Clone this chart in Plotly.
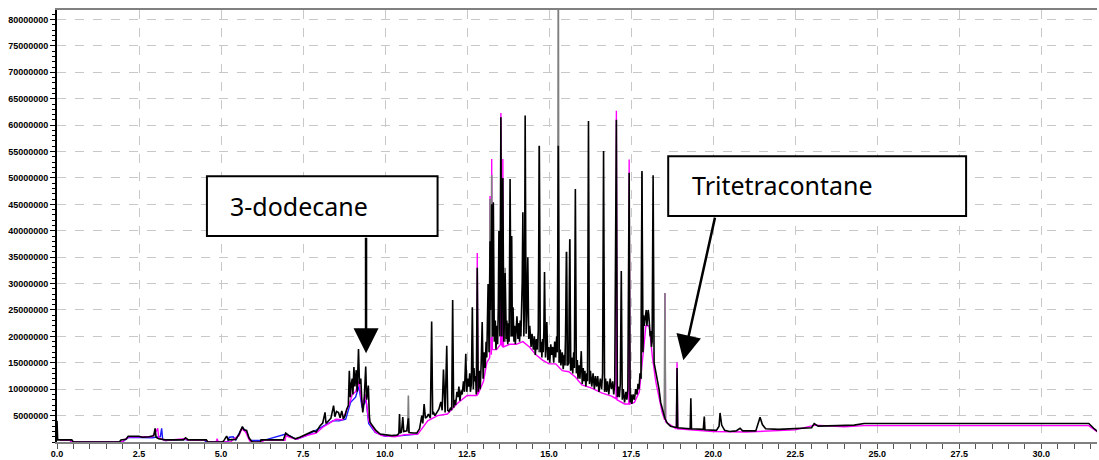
import plotly.graph_objects as go

SCALE = 1e6  # values below are in millions of counts

# ---- black (main) chromatogram: (retention time min, intensity in millions) ----
black_pts = [
    (0.00, 4.0), (0.02, 0.4), (0.45, 0.4), (0.5, 0.0), (1.9, 0.0), (1.95, 0.4), (2.1, 0.5), (2.17, 1.1),
    (2.5, 1.1), (2.6, 0.9), (2.8, 1.0), (2.95, 1.2), (2.99, 2.6), (3.02, 0.9), (3.1, 0.6), (3.3, 0.4),
    (3.85, 0.4), (3.92, 0.8), (4.0, 0.4), (4.55, 0.4), (4.6, 0.0), (5.05, 0.0), (5.1, 0.4), (5.17, 1.1),
    (5.22, 0.4), (5.45, 0.5), (5.55, 1.5), (5.62, 2.4), (5.65, 2.9), (5.7, 2.3), (5.78, 2.2), (5.85, 0.8),
    (5.9, 0.3), (5.95, 0.0), (6.2, 0.0), (6.22, 0.4), (6.9, 0.4), (6.93, 1.2), (6.97, 1.7), (7.05, 1.3),
    (7.15, 1.0), (7.26, 0.6), (7.4, 0.9), (7.5, 1.2), (7.6, 1.4), (7.7, 1.8), (7.82, 2.1), (7.9, 1.9),
    (8.02, 3.1), (8.1, 3.6), (8.17, 5.6), (8.2, 3.5), (8.27, 4.0), (8.35, 4.5), (8.43, 6.9), (8.47, 4.8),
    (8.52, 5.8), (8.58, 5.6), (8.63, 4.6), (8.68, 5.9), (8.73, 4.4), (8.78, 5.0), (8.83, 6.2), (8.88, 6.9),
    (8.91, 13.5), (8.94, 8.5), (8.97, 11.0), (9.0, 12.0), (9.02, 9.0), (9.05, 14.2), (9.08, 10.5),
    (9.12, 13.6), (9.15, 9.5), (9.19, 17.6), (9.22, 11.0), (9.26, 12.0), (9.29, 8.0), (9.32, 5.6),
    (9.36, 7.5), (9.41, 14.3), (9.44, 8.0), (9.49, 10.7), (9.52, 5.0), (9.54, 3.8), (9.6, 3.2), (9.64, 2.8),
    (9.72, 2.2), (9.85, 1.5), (10.05, 1.3), (10.2, 1.2), (10.36, 1.3), (10.42, 1.6), (10.44, 5.3),
    (10.46, 1.7), (10.5, 1.9), (10.54, 4.7), (10.57, 2.0), (10.66, 2.1), (10.71, 4.5), (10.73, 1.8),
    (10.85, 1.7), (10.97, 1.7), (11.05, 2.5), (11.12, 5.0), (11.15, 3.5), (11.19, 7.2), (11.23, 4.5),
    (11.28, 4.8), (11.32, 5.3), (11.38, 4.5), (11.42, 22.8), (11.45, 5.2), (11.47, 5.7), (11.52, 5.0),
    (11.58, 5.5), (11.64, 6.2), (11.7, 7.6), (11.74, 6.0), (11.78, 13.7), (11.81, 6.0), (11.83, 5.6),
    (11.88, 18.2), (11.91, 6.0), (11.95, 5.8),
    (12.0, 6.5), (12.03, 6.0), (12.06, 26.9), (12.09, 6.5), (12.12, 8.0), (12.15, 7.0), (12.19, 9.5),
    (12.22, 8.5), (12.25, 10.5), (12.28, 7.8), (12.32, 9.8), (12.35, 9.0), (12.39, 11.5), (12.42, 9.5),
    (12.46, 16.7), (12.49, 9.5), (12.52, 12.0), (12.55, 10.5), (12.58, 13.0), (12.6, 9.5), (12.63, 11.0),
    (12.66, 25.5), (12.69, 10.0), (12.71, 14.0), (12.73, 11.5), (12.76, 12.5), (12.78, 9.0), (12.81, 33.0),
    (12.84, 9.5), (12.87, 13.5), (12.9, 10.0), (12.93, 15.0), (12.96, 22.7), (12.99, 12.0), (13.02, 17.0),
    (13.05, 14.0), (13.08, 19.0), (13.1, 16.0), (13.12, 22.0), (13.14, 29.9), (13.17, 17.0), (13.2, 38.0),
    (13.22, 25.0), (13.25, 45.0), (13.28, 20.0), (13.3, 45.4), (13.33, 19.0), (13.36, 23.0), (13.38, 17.5),
    (13.41, 22.0), (13.43, 18.5), (13.45, 25.0), (13.47, 40.0), (13.5, 20.0), (13.53, 61.5), (13.56, 20.0),
    (13.59, 50.0), (13.62, 19.0), (13.64, 24.0), (13.66, 32.0), (13.69, 19.5), (13.71, 23.0), (13.74, 18.5),
    (13.76, 22.5), (13.78, 19.0), (13.81, 49.8), (13.84, 20.0), (13.86, 39.0), (13.88, 20.0), (13.9, 25.5),
    (13.93, 19.0), (13.95, 22.0), (13.97, 18.5), (14.0, 21.0), (14.02, 23.8), (14.05, 19.5), (14.08, 22.5),
    (14.1, 19.0), (14.12, 23.0), (14.14, 20.0), (14.16, 24.0), (14.18, 30.3), (14.2, 43.5), (14.23, 20.0),
    (14.25, 26.0), (14.27, 61.8), (14.3, 20.5), (14.32, 24.0), (14.35, 35.0), (14.38, 19.5), (14.41, 22.0),
    (14.45, 18.0), (14.48, 20.5), (14.52, 17.5), (14.55, 20.0), (14.58, 16.5), (14.61, 19.5), (14.64, 17.5),
    (14.67, 21.0), (14.7, 56.1), (14.73, 17.0), (14.76, 19.0), (14.78, 16.0), (14.8, 19.5), (14.82, 17.0),
    (14.84, 21.0), (14.86, 32.2), (14.89, 16.0), (14.91, 18.5), (14.93, 22.7), (14.96, 15.5), (14.99, 18.0),
    (15.02, 15.0), (15.05, 18.5), (15.08, 16.5), (15.11, 18.0), (15.14, 15.0), (15.17, 19.0), (15.2, 16.0),
    (15.23, 20.0), (15.25, 17.0), (15.28, 56.1), (15.31, 15.0), (15.34, 17.5), (15.36, 14.5), (15.4, 17.0),
    (15.43, 13.8), (15.46, 16.5), (15.48, 14.5), (15.5, 20.0), (15.53, 36.0), (15.56, 14.5), (15.6, 15.0),
    (15.63, 38.4), (15.66, 13.5), (15.69, 16.0), (15.72, 13.0), (15.75, 17.0), (15.77, 14.0), (15.8, 47.9),
    (15.83, 13.0), (15.86, 15.5), (15.88, 12.0), (15.91, 14.5), (15.94, 12.0), (15.98, 17.2), (16.01, 11.0),
    (16.04, 14.0), (16.06, 11.5), (16.09, 13.5), (16.12, 10.5), (16.15, 13.0), (16.17, 11.5), (16.2, 60.8),
    (16.23, 11.0), (16.26, 13.5), (16.3, 10.5), (16.34, 13.0), (16.38, 10.0), (16.41, 12.5), (16.45, 10.5),
    (16.48, 12.5), (16.52, 9.5), (16.56, 12.0), (16.6, 10.0), (16.63, 13.0), (16.66, 55.1), (16.69, 9.5),
    (16.72, 12.0), (16.75, 9.5), (16.78, 11.5), (16.82, 9.0), (16.86, 12.0), (16.9, 10.0), (16.94, 11.5),
    (16.97, 9.0), (17.0, 11.0), (17.05, 61.0), (17.08, 8.5), (17.11, 10.5), (17.14, 8.5), (17.17, 11.0),
    (17.2, 32.4), (17.23, 8.0), (17.26, 10.0), (17.3, 7.5), (17.34, 9.5), (17.37, 8.0), (17.4, 10.0),
    (17.44, 51.0), (17.47, 7.5), (17.5, 9.0), (17.52, 7.2), (17.56, 9.0), (17.6, 8.0), (17.64, 10.0),
    (17.68, 9.0), (17.71, 11.0), (17.74, 10.0), (17.77, 13.0), (17.8, 12.0), (17.83, 51.3), (17.86, 17.0),
    (17.88, 24.0), (17.9, 22.0), (17.93, 24.0), (17.96, 25.0), (17.98, 22.0), (18.0, 23.0), (18.02, 25.0),
    (18.04, 24.0), (18.06, 21.0), (18.08, 20.0), (18.1, 21.0), (18.12, 18.0), (18.14, 19.0), (18.17, 50.5),
    (18.2, 15.0), (18.23, 14.0), (18.27, 12.5), (18.31, 11.0), (18.35, 10.0), (18.4, 7.5), (18.45, 6.2),
    (18.53, 4.5), (18.6, 3.6), (18.7, 3.0),
    (18.84, 2.8), (18.88, 2.8), (18.9, 14.0), (18.92, 2.7), (19.1, 2.6), (19.3, 2.5), (19.32, 8.3),
    (19.34, 2.5), (19.7, 2.4), (19.73, 4.8), (19.75, 2.3), (20.1, 2.2), (20.18, 3.0), (20.21, 5.5),
    (20.26, 3.2), (20.35, 2.2), (20.5, 2.0), (20.7, 2.1), (20.82, 2.6), (20.9, 2.1), (21.3, 2.1),
    (21.4, 3.8), (21.43, 4.7), (21.5, 3.3), (21.6, 2.5), (22.0, 2.4), (22.55, 2.5), (23.0, 2.7),
    (23.08, 3.5), (23.2, 3.0), (23.8, 3.1), (24.3, 3.2), (24.6, 3.5), (31.45, 3.5), (31.6, 2.6), (31.74, 1.9),
]

# ---- magenta overlay run ----
magenta_pts = [
    (0.1, 0.3), (0.4, 0.3), (0.45, 0.0), (2.0, 0.0), (2.05, 0.4), (2.2, 1.0), (2.6, 1.0), (2.9, 1.0),
    (3.04, 2.2), (3.07, 2.6), (3.1, 0.8), (3.3, 0.3), (3.9, 0.6), (4.0, 0.3), (4.55, 0.3), (4.6, 0.0),
    (4.85, 0.0), (4.88, 0.6), (4.92, 0.0), (5.3, 0.0), (5.35, 0.4), (5.55, 1.2), (5.63, 2.5), (5.75, 1.9),
    (5.85, 0.5), (5.9, 0.0), (6.25, 0.0), (6.3, 0.3), (6.95, 0.3), (6.98, 1.2), (7.1, 0.9), (7.3, 0.5),
    (7.6, 1.2), (7.9, 1.7), (8.1, 2.8), (8.3, 3.6), (8.5, 4.3), (8.7, 4.2), (8.9, 7.0), (9.0, 9.0),
    (9.1, 9.5), (9.2, 11.5), (9.3, 7.0), (9.4, 9.0), (9.5, 4.0), (9.7, 1.9), (9.9, 1.2), (10.3, 1.0),
    (10.6, 1.4), (11.0, 1.5), (11.3, 4.0), (11.6, 5.0), (11.9, 5.3), (12.2, 7.3), (12.5, 8.8), (12.8, 8.8),
    (12.81, 35.8), (12.83, 9.0), (13.0, 11.5), (13.1, 15.0), (13.19, 16.0), (13.2, 46.6), (13.22, 16.5),
    (13.24, 16.5), (13.25, 53.6), (13.27, 17.5), (13.4, 17.5), (13.52, 18.5), (13.53, 62.3), (13.55, 18.5),
    (13.58, 18.0), (13.59, 53.6), (13.61, 18.0), (13.8, 18.5), (14.0, 18.5), (14.2, 19.0), (14.4, 18.0),
    (14.6, 16.5), (14.8, 15.5), (15.0, 14.8), (15.2, 14.8), (15.4, 13.5), (15.6, 13.3), (15.8, 12.3),
    (16.0, 10.8), (16.3, 10.2), (16.6, 9.3), (16.9, 8.7), (17.04, 8.2), (17.05, 62.7), (17.07, 8.0),
    (17.3, 7.2), (17.43, 7.2), (17.44, 53.5), (17.46, 7.2), (17.6, 7.5), (17.75, 9.5), (17.85, 16.0),
    (17.95, 22.0), (18.05, 22.0), (18.15, 16.0), (18.25, 11.5), (18.35, 8.5), (18.45, 5.5), (18.52, 4.2),
    (18.53, 28.2), (18.55, 3.8), (18.88, 2.5), (18.9, 15.1), (18.92, 2.5), (19.3, 2.3), (20.0, 2.0),
    (21.0, 1.9), (22.5, 2.3), (23.1, 3.2), (24.0, 2.9), (24.6, 3.1), (31.45, 3.1), (31.74, 1.8),
]

# ---- blue overlay run (early part) ----
blue_pts = [
    (0.1, 0.3), (0.4, 0.3), (0.45, 0.0), (2.0, 0.0), (2.05, 0.3), (2.2, 0.9), (2.9, 0.8), (3.15, 1.0),
    (3.19, 2.6), (3.22, 0.5), (3.3, 0.3), (3.9, 0.5), (4.0, 0.3), (4.5, 0.3), (4.55, 0.0), (5.2, 0.0),
    (5.25, 0.9), (5.37, 1.0), (5.45, 0.4), (5.6, 2.2), (5.68, 2.6), (5.8, 1.6), (5.88, 0.3), (6.3, 0.3),
    (6.98, 1.5), (7.1, 1.1), (7.3, 0.5), (7.6, 1.2), (8.0, 2.6), (8.4, 4.0), (8.6, 4.0), (8.8, 4.3),
    (8.95, 7.5), (9.1, 8.5), (9.2, 10.5), (9.3, 6.5), (9.42, 8.0), (9.5, 3.5), (9.7, 1.8), (10.0, 1.1),
    (10.5, 1.2), (11.0, 1.5),
]

# ---- grey overlay run: only separate peak groups ----
grey_groups = [
    [(10.69, 2.0), (10.71, 8.8), (10.73, 1.8)],
    [(13.18, 17.0), (13.2, 46.0), (13.22, 20.0), (13.24, 20.0), (13.25, 50.5), (13.27, 20.0)],
    [(13.64, 19.0), (13.66, 33.0), (13.68, 19.0)],
    [(14.68, 17.0), (14.7, 56.0), (14.72, 17.0)],
    [(15.26, 17.0), (15.28, 95.0), (15.30, 15.0)],
    [(15.51, 14.5), (15.53, 36.0), (15.55, 14.5), (15.61, 15.0), (15.63, 38.4), (15.65, 13.5)],
    [(17.81, 12.0), (17.83, 51.0), (17.85, 17.0)],
    [(18.51, 4.6), (18.53, 28.2), (18.55, 4.4)],
]

x_tick_vals = [0, 2.5, 5, 7.5, 10, 12.5, 15, 17.5, 20, 22.5, 25, 27.5, 30]
x_tick_text = ["0.0", "2.5", "5.0", "7.5", "10.0", "12.5", "15.0", "17.5", "20.0", "22.5", "25.0", "27.5", "30.0"]
y_tick_vals = [5e6 * k for k in range(1, 17)]
y_tick_text = [str(int(v)) for v in y_tick_vals]

label_1 = "3-dodecane"
label_2 = "Tritetracontane"


def xy(pts):
    return [p[0] for p in pts], [p[1] * SCALE for p in pts]


gx, gy = [], []
for g in grey_groups:
    for t, v in g:
        gx.append(t)
        gy.append(v * SCALE)
    gx.append(None)
    gy.append(None)

fig = go.Figure()
bx, by = xy(blue_pts)
fig.add_trace(go.Scatter(x=bx, y=by, mode="lines", line=dict(color="#1a1aff", width=1.4), hoverinfo="skip"))
mx, my = xy(magenta_pts)
fig.add_trace(go.Scatter(x=mx, y=my, mode="lines", line=dict(color="#ff00ff", width=1.4), hoverinfo="skip"))
fig.add_trace(go.Scatter(x=gx, y=gy, mode="lines", line=dict(color="#7f7f7f", width=1.6), hoverinfo="skip"))
kx, ky = xy(black_pts)
fig.add_trace(go.Scatter(x=kx, y=ky, mode="lines", line=dict(color="#000000", width=1.6), hoverinfo="skip"))

tick_font = dict(family="Liberation Sans, Arial, sans-serif", size=9, color="#000000", weight="bold")

fig.update_layout(
    width=1099, height=460,
    margin=dict(l=57, r=2, t=10, b=18, autoexpand=False),
    paper_bgcolor="white", plot_bgcolor="white",
    showlegend=False,
    xaxis=dict(
        range=[0, 31.7], tickmode="array", tickvals=x_tick_vals, ticktext=x_tick_text,
        ticks="outside", ticklen=5, tickcolor="#555555", tickwidth=1,
        minor=dict(dtick=0.5, tick0=0, ticks="outside", ticklen=5, tickcolor="#555555", showgrid=False),
        showline=True, linecolor="#808080", linewidth=2, mirror=True,
        showgrid=True, gridcolor="#c8c8c8", griddash="dash", gridwidth=1,
        zeroline=False, tickfont=tick_font, automargin=False, ticklabelstandoff=-3,
    ),
    yaxis=dict(
        range=[0, 81.8e6], tickmode="array", tickvals=y_tick_vals, ticktext=y_tick_text,
        ticks="outside", ticklen=5, tickcolor="#000000", tickwidth=1,
        minor=dict(dtick=1e6, tick0=0, ticks="outside", ticklen=3, tickcolor="#000000", showgrid=False),
        showline=True, linecolor="#000000", linewidth=2,
        showgrid=True, gridcolor="#c8c8c8", griddash="dash", gridwidth=1,
        zeroline=False, tickfont=tick_font, automargin=False,
    ),
)

# label boxes
fig.add_shape(type="rect", xref="x", yref="y", x0=4.57, x1=11.6, y0=39.0e6, y1=50.3e6,
              line=dict(color="black", width=2), fillcolor="white", layer="above")
fig.add_shape(type="rect", xref="x", yref="y", x0=18.63, x1=27.71, y0=42.8e6, y1=54.1e6,
              line=dict(color="black", width=2), fillcolor="white", layer="above")

label_font = dict(family="Noto Sans, Open Sans, sans-serif", size=25, color="#000000")
fig.add_annotation(x=5.21, y=44.7e6, xref="x", yref="y", text=label_1, showarrow=False,
                   xanchor="left", yanchor="middle", font=label_font)
fig.add_annotation(x=19.3, y=48.6e6, xref="x", yref="y", text=label_2, showarrow=False,
                   xanchor="left", yanchor="middle", font=label_font)

# arrows
fig.add_annotation(x=9.42, y=16.8e6, xref="x", yref="y", text="", showarrow=True,
                   ax=0, ay=-117, arrowhead=2, arrowsize=2.0, arrowwidth=2.5, arrowcolor="black")
fig.add_annotation(x=19.09, y=15.5e6, xref="x", yref="y", text="", showarrow=True,
                   ax=32, ay=-144, arrowhead=2, arrowsize=2.0, arrowwidth=2.5, arrowcolor="black")

fig.write_html("out.html", config={"displayModeBar": False},
               post_script="document.body.style.margin='0px';document.body.style.overflow='hidden';")
